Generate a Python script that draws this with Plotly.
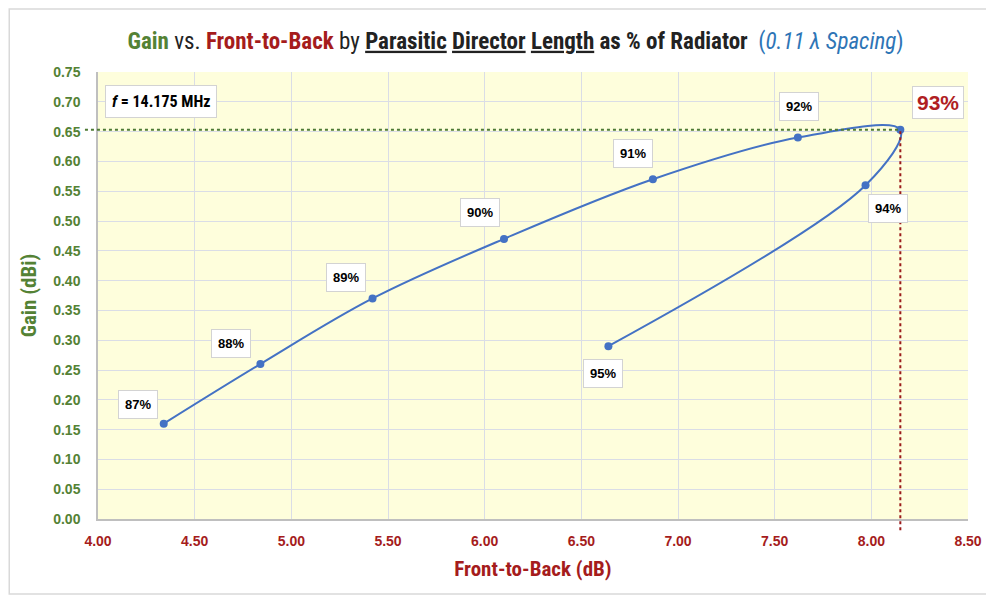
import plotly.graph_objects as go

# director length as % of radiator, front-to-back (dB), gain (dBi)
pct_labels = ['87%', '88%', '89%', '90%', '91%', '92%', '93%', '94%', '95%']
ftb = [4.34, 4.84, 5.42, 6.10, 6.87, 7.62, 8.15, 7.97, 6.64]
gain = [0.16, 0.26, 0.37, 0.47, 0.57, 0.64, 0.653, 0.56, 0.29]

x_ticks = [4.0, 4.5, 5.0, 5.5, 6.0, 6.5, 7.0, 7.5, 8.0, 8.5]
y_ticks = [0.0, 0.05, 0.10, 0.15, 0.20, 0.25, 0.30, 0.35, 0.40, 0.45,
           0.50, 0.55, 0.60, 0.65, 0.70, 0.75]

# label offsets in pixels relative to each point
label_dx = [-26, -29, -27, -24, -20, 1, 38, 22, -5]
label_dy = [19, 21, 21, 26, 26, 31, 27, -23, -27]

GREEN = '#548235'
RED = '#A51C1C'
BLUE = '#4472C4'
NARROW = 'Liberation Sans Narrow, Roboto Condensed, Arial Narrow, Liberation Sans, sans-serif'
ARIAL = 'Liberation Sans, Arial, sans-serif'

x_min, x_max = 4.0, 8.5
y_min, y_max = 0.0, 0.75
peak = 6

fig = go.Figure()
fig.add_trace(go.Scatter(
    x=ftb, y=gain, mode='lines+markers',
    line=dict(color=BLUE, width=2, shape='spline', smoothing=1),
    marker=dict(color=BLUE, size=8),
    hoverinfo='skip', showlegend=False))

annotations = []
for i, lab in enumerate(pct_labels):
    big = (i == peak)
    annotations.append(dict(
        x=ftb[i], y=gain[i], xref='x', yref='y', text=lab, showarrow=False,
        xanchor='center', yanchor='middle',
        xshift=label_dx[i], yshift=label_dy[i],
        font=dict(family=ARIAL, size=21 if big else 13,
                  color='#B01E23' if big else 'black', weight='bold'),
        bgcolor='white', bordercolor='#D3D3D3', borderwidth=1,
        borderpad=4 if big else 6))

annotations.append(dict(
    x=0.0727, y=0.933, xref='paper', yref='paper', showarrow=False,
    xanchor='center', yanchor='middle',
    text='<i>f</i> = 14.175 MHz',
    font=dict(family=NARROW, size=16, color='black', weight='bold'),
    bgcolor='white', bordercolor='#D3D3D3', borderwidth=1, borderpad=6))

title = ('<span style="color:%s">Gain</span>'
         ' <span style="font-weight:normal">vs.</span> '
         '<span style="color:%s">Front-to-Back</span>'
         ' <span style="font-weight:normal">by</span> '
         '<u>Parasitic</u> <u>Director</u> <u>Length</u> as %% of Radiator  '
         '<span style="color:#2E75B6;font-weight:normal">(<i>0.11 λ Spacing</i>)</span>'
         % (GREEN, RED))

px = (ftb[peak] - x_min) / (x_max - x_min)
py = (gain[peak] - y_min) / (y_max - y_min)
shapes = [
    dict(type='line', xref='paper', yref='paper', x0=-0.015, x1=px, y0=py, y1=py,
         line=dict(color='#4E7A35', width=2, dash='dot')),
    dict(type='line', xref='paper', yref='paper', x0=px, x1=px, y0=-0.025, y1=py,
         line=dict(color='#9B1B1B', width=2, dash='dot')),
    dict(type='rect', xref='paper', yref='paper', x0=-0.102, x1=1.03, y0=-0.168, y1=1.141,
         line=dict(color='#D9D9D9', width=1.5), layer='below'),
]

fig.update_layout(
    width=986, height=588,
    margin=dict(l=90, r=23, t=64, b=77),
    paper_bgcolor='white', plot_bgcolor='#FEFEDC',
    title=dict(text=title, x=0.48, xref='paper', xanchor='center', y=0.958, yref='container',
               font=dict(family=NARROW, size=23, color='#222222', weight='bold')),
    xaxis=dict(range=[x_min, x_max], tickvals=x_ticks, tickformat='.2f',
               showgrid=True, gridcolor='#DADDE6', gridwidth=1,
               showline=True, linecolor='#BFBFBF', linewidth=1.5, mirror=False,
               zeroline=False, ticks='', ticklabelstandoff=8,
               tickfont=dict(family=ARIAL, size=14, color=RED, weight='bold'),
               title=dict(text='Front-to-Back (dB)', standoff=14,
                          font=dict(family=NARROW, size=21, color=RED, weight='bold'))),
    yaxis=dict(range=[y_min, y_max], tickvals=y_ticks, tickformat='.2f',
               showgrid=True, gridcolor='#DADDE6', gridwidth=1,
               showline=True, linecolor='#BFBFBF', linewidth=1.5,
               zeroline=False, ticks='', ticklabelstandoff=13,
               tickfont=dict(family=ARIAL, size=14, color=GREEN, weight='bold'),
               title=dict(text='Gain (dBi)', standoff=11,
                          font=dict(family=NARROW, size=21, color=GREEN, weight='bold'))),
    annotations=annotations,
    shapes=shapes,
)

fig.write_html('out.html')
